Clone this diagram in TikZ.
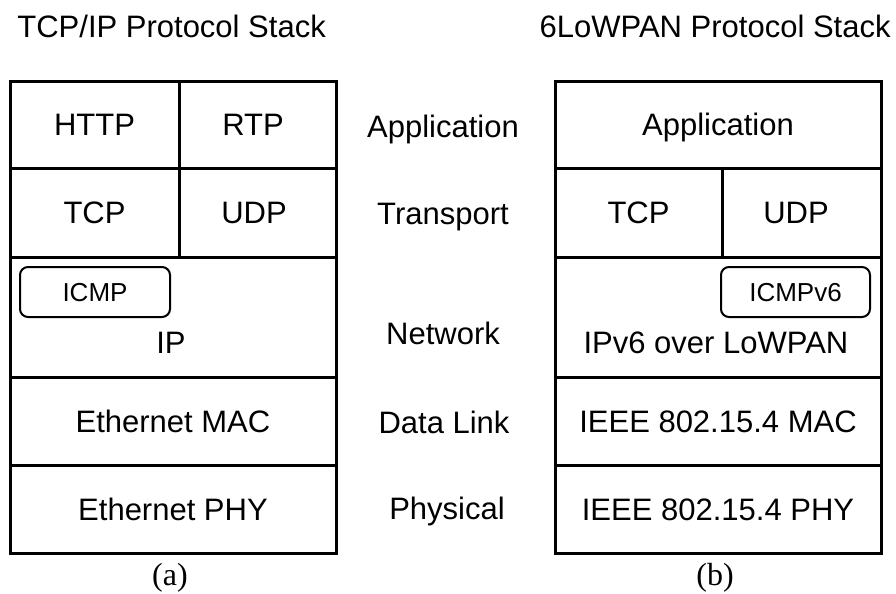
\documentclass[tikz,border=0pt]{standalone}
\usepackage{fontspec}
\setmainfont{Liberation Sans}
\newfontfamily\capserif{Liberation Serif}
\begin{document}
\begin{tikzpicture}[x=0.5pt,y=-0.5pt,
  cell/.style={draw, line width=1.5pt, inner sep=0pt, font=\fontsize{15.5}{18}\selectfont, text height=11.1pt, text depth=0pt},
  lbl/.style={inner sep=0pt, font=\fontsize{15.5}{18}\selectfont, text height=11.1pt, text depth=0pt},
  subbox/.style={draw, line width=1pt, rounded corners=4pt, inner sep=0pt, font=\fontsize{13}{15}\selectfont, text height=9.3pt, text depth=0pt},
  figcap/.style={inner sep=0pt, font=\capserif\fontsize{16}{18}\selectfont}]
\useasboundingbox (0,0) rectangle (896,594);
% titles
\node[lbl, anchor=west] (t1) at (17,26) {TCP/IP Protocol Stack};
\node[lbl, anchor=east] (t2) at (891,26) {6LoWPAN Protocol Stack};
% left stack
\node[cell, minimum width=84.5pt, minimum height=43.5pt] (http) at (94.5,124.5) {HTTP};
\node[cell, minimum width=78.5pt, minimum height=43.5pt] (rtp) at (257.5,124.5) {};
\node[lbl] (rtpT) at (253,124.5) {RTP};
\node[cell, minimum width=84.5pt, minimum height=44.5pt] (tcpL) at (94.5,212.5) {TCP};
\node[cell, minimum width=78.5pt, minimum height=44.5pt] (udpL) at (257.5,212.5) {};
\node[lbl] (udpLT) at (254,212.5) {UDP};
\node[cell, minimum width=163pt, minimum height=60pt] (netL) at (173,317) {};
\node[cell, minimum width=163pt, minimum height=44pt] (macL) at (173,421) {Ethernet MAC};
\node[cell, minimum width=163pt, minimum height=44pt] (phyL) at (173,509) {Ethernet PHY};
\node[subbox, minimum width=75pt, minimum height=25pt] (icmp) at (95,292) {ICMP};
\node[lbl] (ip) at (171,342) {IP};
% middle labels
\node[lbl] (mApp) at (443,126) {Application};
\node[lbl] (mTr) at (443,213) {Transport};
\node[lbl] (mNet) at (443,333) {Network};
\node[lbl] (mDl) at (444,422) {Data Link};
\node[lbl] (mPh) at (447,508) {Physical};
% right stack
\node[cell, minimum width=163pt, minimum height=43.5pt] (app) at (718,124.5) {Application};
\node[cell, minimum width=83.5pt, minimum height=44.5pt] (tcpR) at (638.5,212.5) {TCP};
\node[cell, minimum width=79.5pt, minimum height=44.5pt] (udpR) at (801.5,212.5) {};
\node[lbl] (udpRT) at (796,212.5) {UDP};
\node[cell, minimum width=163pt, minimum height=60pt] (netR) at (718,317) {};
\node[cell, minimum width=163pt, minimum height=44pt] (macR) at (718,421) {IEEE 802.15.4 MAC};
\node[cell, minimum width=163pt, minimum height=44pt] (phyR) at (718,509) {IEEE 802.15.4 PHY};
\node[subbox, minimum width=74.5pt, minimum height=25pt] (icmp6) at (795.5,292) {ICMPv6};
\node[lbl] (ip6) at (716,342.5) {IPv6 over LoWPAN};
% captions
\node[figcap] (ca) at (170,578) {(a)};
\node[figcap] (cb) at (715,578) {(b)};
\end{tikzpicture}
\end{document}
